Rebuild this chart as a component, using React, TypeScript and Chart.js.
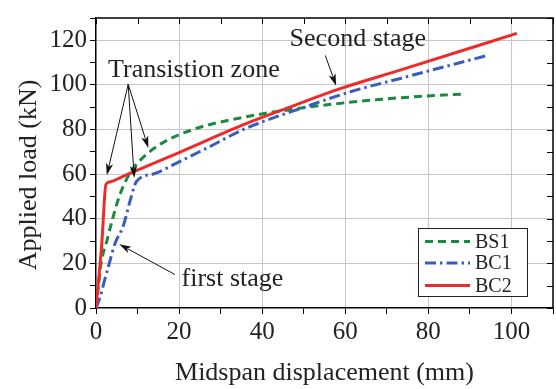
import React, { useEffect, useRef } from "react";
import { Chart, registerables } from "chart.js";

Chart.register(...registerables);

// ---- data ----
const seriesNames = ["BS1", "BC1", "BC2"];

const bs1X = [0, 0.6, 1.2, 2.6, 4.0, 5.6, 8.0, 10.5, 15.8, 23.8, 35.8, 46.6, 61, 73, 89];
const bs1Y = [0, 10, 20, 30, 40, 50, 60, 66, 73.8, 80.3, 85.6, 88.9, 92.2, 94.2, 96];

const bc1X = [0, 1.0, 2.0, 3.2, 4.6, 6.6, 8.2, 9.7, 14, 20, 27, 35.8, 50.6, 61, 73, 93.8];
const bc1Y = [0, 5, 12, 20, 29, 37, 48, 56.6, 60.2, 65.5, 72, 80.3, 90.3, 96.8, 102.8, 113];

const bc2X = [0, 1.4, 2.4, 3.5, 6, 12, 20, 35.8, 47, 58.6, 73, 101.3];
const bc2Y = [0, 29, 55.5, 56.6, 58.6, 63.4, 69.7, 82.4, 90.3, 98.2, 106.5, 123.1];

const xTickLabels = [0, 20, 40, 60, 80, 100];
const yTickLabels = [0, 20, 40, 60, 80, 100, 120];

const xTitle = "Midspan displacement (mm)";
const yTitle = "Applied load (kN)";

// annotation texts (anchor in data units) and arrows (from -> to, data units)
const noteTexts = ["Transistion zone", "Second stage", "first stage"];
const noteX = [2.9, 46.6, 20.6];
const noteY = [103.4, 117.5, 10];

const arrowFromX = [7.75, 7.75, 7.75, 55.2, 19];
const arrowFromY = [100.3, 100.3, 100.3, 113.2, 15];
const arrowToX = [2.6, 9.2, 12.6, 57.8, 5.6];
const arrowToY = [59.5, 58.3, 71.7, 99.6, 28.6];

const colors = ["#1b8a3f", "#3a5cbf", "#ee2b2b"];
const dashes: number[][] = [[8, 5], [11, 4, 2.5, 4], []];

const SERIF = "'Liberation Serif', 'DejaVu Serif', serif";

function zip(xs: number[], ys: number[]) {
  return xs.map((x, i) => ({ x, y: ys[i] }));
}

function drawArrow(ctx: CanvasRenderingContext2D, x1: number, y1: number, x2: number, y2: number) {
  const ang = Math.atan2(y2 - y1, x2 - x1);
  const L = 12;
  const W = 3.6;
  const c = Math.cos(ang);
  const s = Math.sin(ang);
  ctx.beginPath();
  ctx.moveTo(x1, y1);
  ctx.lineTo(x2 - c * L * 0.8, y2 - s * L * 0.8);
  ctx.stroke();
  ctx.beginPath();
  ctx.moveTo(x2, y2);
  ctx.lineTo(x2 - c * L - s * W, y2 - s * L + c * W);
  ctx.lineTo(x2 - c * L * 0.75, y2 - s * L * 0.75);
  ctx.lineTo(x2 - c * L + s * W, y2 - s * L - c * W);
  ctx.closePath();
  ctx.fill();
}

const decorPlugin = {
  id: "decor",
  afterDraw(chart: any) {
    const ctx: CanvasRenderingContext2D = chart.ctx;
    const xs = chart.scales.x;
    const ys = chart.scales.y;
    const { left, right, top, bottom } = chart.chartArea;
    ctx.save();

    // top & right frame with inward ticks
    ctx.strokeStyle = "#000";
    ctx.lineWidth = 1.5;
    ctx.beginPath();
    ctx.moveTo(left, top);
    ctx.lineTo(right, top);
    ctx.lineTo(right, bottom);
    ctx.stroke();
    ctx.lineWidth = 1;
    ctx.beginPath();
    xs.ticks.forEach((t: any) => {
      const p = Math.round(xs.getPixelForValue(t.value)) + 0.5;
      ctx.moveTo(p, top);
      ctx.lineTo(p, top + 6);
    });
    ys.ticks.forEach((t: any) => {
      const p = Math.round(ys.getPixelForValue(t.value)) + 0.5;
      ctx.moveTo(right, p);
      ctx.lineTo(right - 6, p);
    });
    ctx.stroke();

    // axis titles
    ctx.fillStyle = "#222";
    ctx.font = `26px ${SERIF}`;
    ctx.textAlign = "center";
    ctx.textBaseline = "alphabetic";
    ctx.fillText(xTitle, (left + right) / 2, 380);
    ctx.save();
    ctx.translate(36, 175);
    ctx.rotate(-Math.PI / 2);
    ctx.fillText(yTitle, 0, 0);
    ctx.restore();

    // annotations
    ctx.textAlign = "left";
    noteTexts.forEach((t, i) => {
      ctx.fillText(t, xs.getPixelForValue(noteX[i]), ys.getPixelForValue(noteY[i]));
    });
    ctx.strokeStyle = "#111";
    ctx.fillStyle = "#111";
    ctx.lineWidth = 1;
    arrowFromX.forEach((fx, i) => {
      drawArrow(
        ctx,
        xs.getPixelForValue(fx),
        ys.getPixelForValue(arrowFromY[i]),
        xs.getPixelForValue(arrowToX[i]),
        ys.getPixelForValue(arrowToY[i])
      );
    });

    // legend
    const bx = 418, by = 228, bw = 109, bh = 68;
    ctx.fillStyle = "#fff";
    ctx.fillRect(bx, by, bw, bh);
    ctx.strokeStyle = "#222";
    ctx.lineWidth = 1;
    ctx.strokeRect(bx + 0.5, by + 0.5, bw, bh);
    const rowY = [241.5, 263, 285.5];
    ctx.font = `20px ${SERIF}`;
    ctx.textBaseline = "middle";
    seriesNames.forEach((name, i) => {
      ctx.strokeStyle = colors[i];
      ctx.lineWidth = 3;
      ctx.setLineDash(dashes[i]);
      ctx.beginPath();
      ctx.moveTo(bx + 7, rowY[i]);
      ctx.lineTo(bx + 52, rowY[i]);
      ctx.stroke();
      ctx.setLineDash([]);
      ctx.fillStyle = "#222";
      ctx.fillText(name, bx + 57, rowY[i] + 1);
    });
    ctx.restore();
  },
};

export default function App() {
  const ref = useRef<HTMLCanvasElement>(null);

  useEffect(() => {
    if (!ref.current) return;
    const series = [zip(bs1X, bs1Y), zip(bc1X, bc1Y), zip(bc2X, bc2Y)];
    const chart = new Chart(ref.current, {
      type: "line",
      data: {
        datasets: seriesNames.map((name, i) => ({
          label: name,
          data: series[i],
          borderColor: colors[i],
          borderWidth: 3,
          borderDash: dashes[i],
          pointRadius: 0,
          fill: false,
          cubicInterpolationMode: "monotone" as const,
          order: 2 - i,
        })),
      },
      options: {
        responsive: false,
        maintainAspectRatio: false,
        devicePixelRatio: 1,
        animation: false,
        layout: { padding: { top: 6, right: 2, left: 0, bottom: 0 } },
        plugins: { legend: { display: false }, tooltip: { enabled: false } },
        scales: {
          x: {
            type: "linear",
            min: 0,
            max: 110,
            afterFit: (s: any) => {
              s.height = 81;
            },
            ticks: {
              stepSize: 10,
              autoSkip: false,
              maxRotation: 0,
              padding: 3,
              color: "#222",
              font: { family: SERIF, size: 25 },
              callback: (v: any) => (xTickLabels.includes(Number(v)) ? String(v) : ""),
            },
            grid: {
              color: (c: any) =>
                c.tick && xTickLabels.includes(c.tick.value) && c.tick.value !== 0 ? "#c6c6c6" : "rgba(0,0,0,0)",
              tickColor: "#000",
              tickLength: 6,
              tickWidth: 1,
              lineWidth: 1,
            },
            border: { display: true, color: "#000", width: 1.5 },
          },
          y: {
            type: "linear",
            min: 0,
            max: 130,
            afterFit: (s: any) => {
              s.width = 96;
            },
            ticks: {
              stepSize: 10,
              autoSkip: false,
              padding: 3,
              color: "#222",
              font: { family: SERIF, size: 25 },
              callback: (v: any) => (yTickLabels.includes(Number(v)) ? String(v) : ""),
            },
            grid: {
              color: (c: any) =>
                c.tick && yTickLabels.includes(c.tick.value) && c.tick.value !== 0 ? "#c6c6c6" : "rgba(0,0,0,0)",
              tickColor: "#000",
              tickLength: 6,
              tickWidth: 1,
              lineWidth: 1,
            },
            border: { display: true, color: "#000", width: 1.5 },
          },
        },
      },
      plugins: [decorPlugin],
    });
    return () => chart.destroy();
  }, []);

  return (
    <div style={{ position: "fixed", left: 0, top: 0, width: 556, height: 389, background: "#fff" }}>
      <canvas ref={ref} width={556} height={389} style={{ display: "block" }} />
    </div>
  );
}
